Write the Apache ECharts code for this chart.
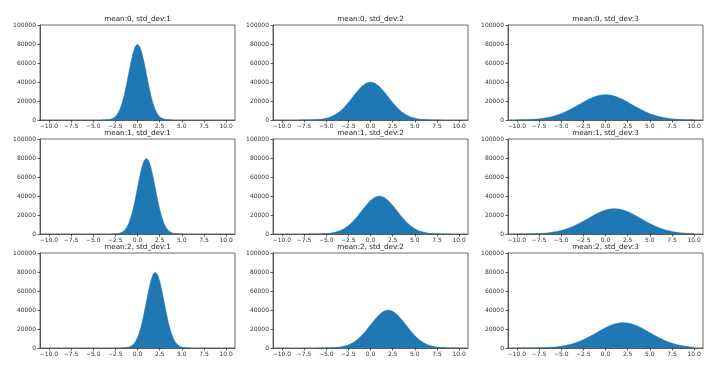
<!DOCTYPE html>
<html>
<head>
<meta charset="utf-8">
<script src="https://cdn.jsdelivr.net/npm/echarts@6/dist/echarts.min.js"></script>
<style>
    html, body { margin: 0; padding: 0; background: #fff; }
    #chart { width: 719px; height: 378px; }
</style>
</head>
<body>
<div id="chart"></div>
<script>
// panel rows = mean, panel columns = std_dev
const means = [0, 1, 2];
const stdDevs = [1, 2, 3];

const xTicks = [-10, -7.5, -5, -2.5, 0, 2.5, 5, 7.5, 10];
const yTicks = [0, 20000, 40000, 60000, 80000, 100000];

// histogram heights, as offset from the mean
const offsetsStd1 = [-4, -3.75, -3.5, -3.25, -3, -2.75, -2.5, -2.25, -2, -1.75, -1.5, -1.25, -1, -0.75, -0.5, -0.25,
    0, 0.25, 0.5, 0.75, 1, 1.25, 1.5, 1.75, 2, 2.25, 2.5, 2.75, 3, 3.25, 3.5, 3.75, 4];
const countsStd1 = [0, 100, 200, 400, 900, 1800, 3500, 6400, 10800, 17300, 25900, 36500, 48400, 60200, 70400, 77300,
    79800, 77300, 70400, 60200, 48400, 36500, 25900, 17300, 10800, 6400, 3500, 1800, 900, 400, 200, 100, 0];

const offsetsStd2 = [-8, -7.5, -7, -6.5, -6, -5.5, -5, -4.5, -4, -3.5, -3, -2.5, -2, -1.5, -1, -0.5,
    0, 0.5, 1, 1.5, 2, 2.5, 3, 3.5, 4, 4.5, 5, 5.5, 6, 6.5, 7, 7.5, 8];
const countsStd2 = [0, 40, 90, 200, 440, 910, 1750, 3180, 5400, 8630, 12960, 18270, 24200, 30120, 35210, 38670,
    39900, 38670, 35210, 30120, 24200, 18270, 12960, 8630, 5400, 3180, 1750, 910, 440, 200, 90, 40, 0];

const offsetsStd3 = [-12, -11.5, -11, -10.5, -10, -9.5, -9, -8.5, -8, -7.5, -7, -6.5, -6, -5.5, -5, -4.5,
    -4, -3.5, -3, -2.5, -2, -1.5, -1, -0.5, 0, 0.5, 1, 1.5, 2, 2.5, 3, 3.5,
    4, 4.5, 5, 5.5, 6, 6.5, 7, 7.5, 8, 8.5, 9, 9.5, 10, 10.5, 11, 11.5, 12];
const countsStd3 = [10, 20, 30, 60, 100, 180, 300, 480, 760, 1170, 1750, 2540, 3600, 4960, 6630, 8640,
    10940, 13470, 16130, 18800, 21300, 23470, 25160, 26230, 26600, 26230, 25160, 23470, 21300, 18800, 16130, 13470,
    10940, 8640, 6630, 4960, 3600, 2540, 1750, 1170, 760, 480, 300, 180, 100, 60, 30, 20, 10];

const profiles = {
    1: {offsets: offsetsStd1, counts: countsStd1},
    2: {offsets: offsetsStd2, counts: countsStd2},
    3: {offsets: offsetsStd3, counts: countsStd3}
};

const colLeft = [40, 273, 508];
const rowTop = [25, 139, 253];
const cellW = 195;
const cellH = 95;
const font = "DejaVu Sans";
const ink = "#333";
const barColor = "#1f77b4";

let grids = [], xAxes = [], yAxes = [], series = [], titles = [];

means.forEach(function (mean, r) {
    stdDevs.forEach(function (std, c) {
        const idx = grids.length;
        const p = profiles[std];
        const data = [];
        p.offsets.forEach(function (o, k) {
            const x = mean + o;
            if (x >= -10 && x <= 10) {
                data.push([x, p.counts[k]]);
            }
        });

        grids.push({
            left: colLeft[c],
            top: rowTop[r],
            width: cellW,
            height: cellH,
            show: true,
            borderColor: "#444",
            borderWidth: 0.8,
            backgroundColor: "transparent"
        });
        xAxes.push({
            type: "value",
            gridIndex: idx,
            min: -11,
            max: 11,
            z: 5,
            splitLine: {show: false},
            axisLine: {show: true, onZero: false, lineStyle: {color: "#444", width: 0.8}},
            axisTick: {show: true, customValues: xTicks, length: 2.5, lineStyle: {color: ink, width: 0.8}},
            axisLabel: {
                customValues: xTicks,
                fontSize: 6,
                fontFamily: font,
                color: ink,
                margin: 3,
                formatter: function (v) {
                    return v.toFixed(1).replace("-", "\u2212");
                }
            }
        });
        yAxes.push({
            type: "value",
            gridIndex: idx,
            min: yTicks[0],
            max: yTicks[yTicks.length - 1],
            interval: 20000,
            z: 5,
            splitLine: {show: false},
            axisLine: {show: true, onZero: false, lineStyle: {color: "#444", width: 0.8}},
            axisTick: {show: true, length: 2.5, lineStyle: {color: ink, width: 0.8}},
            axisLabel: {
                fontSize: 6,
                fontFamily: font,
                color: ink,
                margin: 4,
                formatter: function (v) {
                    return String(v);
                }
            }
        });
        series.push({
            type: "line",
            xAxisIndex: idx,
            yAxisIndex: idx,
            data: data,
            symbol: "none",
            smooth: false,
            lineStyle: {width: 0.6, color: barColor},
            areaStyle: {color: barColor, opacity: 1}
        });
        titles.push({
            text: "mean:" + mean + ", std_dev:" + std,
            left: colLeft[c] + cellW / 2,
            top: rowTop[r] - 9,
            textAlign: "center",
            padding: 0,
            textStyle: {fontSize: 7.2, fontWeight: "normal", fontFamily: font, color: "#222"}
        });
    });
});

const chart = echarts.init(document.getElementById("chart"));
chart.setOption({
    animation: false,
    backgroundColor: "#fff",
    title: titles,
    grid: grids,
    xAxis: xAxes,
    yAxis: yAxes,
    series: series
});
</script>
</body>
</html>
